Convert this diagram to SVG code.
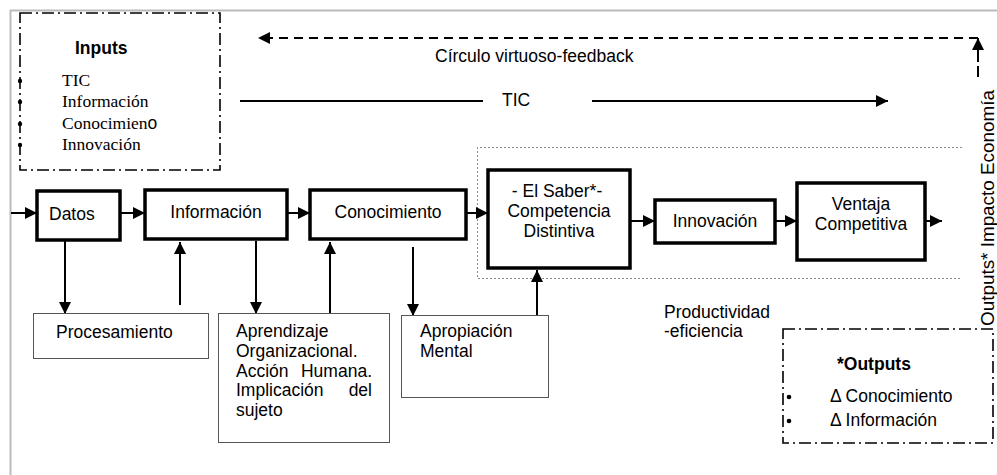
<svg xmlns="http://www.w3.org/2000/svg" width="997" height="475" viewBox="0 0 997 475">
<style>
.t{font-family:"Liberation Sans",Arial,sans-serif;font-size:17.5px;fill:#000}
.s{font-family:"Liberation Serif","Times New Roman",serif;font-size:17.5px;fill:#000}
.b{font-weight:bold}
.box{fill:#fff;stroke:#000;stroke-width:3.5}
.thin{fill:#fff;stroke:#555;stroke-width:1}
.dd{fill:none;stroke:#000;stroke-width:1.6;stroke-dasharray:12 4 2 4}
.c{stroke:#000;stroke-width:2;fill:none}
</style>
<defs>
<marker id="ah" viewBox="0 0 12 12" refX="12" refY="6" markerWidth="12" markerHeight="12" orient="auto" markerUnits="userSpaceOnUse"><path d="M0,0 L12,6 L0,12 z" fill="#000"/></marker>
</defs>
<rect width="997" height="475" fill="#fff"/>
<path d="M10.5,475 V10.5 H997" fill="none" stroke="#bbb" stroke-width="2"/>

<g id="inputs">
<rect class="dd" x="20" y="13" width="200" height="157"/>
<text class="t b" x="75" y="54">Inputs</text>
<circle cx="20" cy="81" r="2.2"/><circle cx="20" cy="102" r="2.2"/><circle cx="20" cy="124" r="2.2"/><circle cx="20" cy="145" r="2.2"/>
<text class="s" x="62" y="86">TIC</text>
<text class="s" x="62" y="107">Información</text>
<text class="s" x="62" y="129">Conocimien<tspan class="t">o</tspan></text>
<text class="s" x="62" y="150">Innovación</text>
</g>

<g id="zone">
<path d="M962,147.5 H477.5 V278.5 H962" fill="none" stroke="#888" stroke-width="1" stroke-dasharray="2 2"/>
</g>

<g id="connectors">
<path d="M978,77 V66 M978,62 V52" class="c" stroke-width="2.5"/>
<line x1="978" y1="52" x2="978" y2="38" class="c" stroke-width="2.5" marker-end="url(#ah)"/>
<line x1="978" y1="38" x2="258" y2="38" class="c" stroke-width="2.5" stroke-dasharray="9 6" marker-end="url(#ah)"/>
<line x1="240" y1="101" x2="483" y2="101" class="c"/>
<line x1="592" y1="101" x2="888" y2="101" class="c" marker-end="url(#ah)"/>
<line x1="11" y1="213" x2="37" y2="213" class="c" stroke-width="4" marker-end="url(#ah)"/>
<line x1="120" y1="213" x2="145" y2="213" class="c" marker-end="url(#ah)"/>
<line x1="287" y1="213" x2="310" y2="213" class="c" marker-end="url(#ah)"/>
<line x1="466" y1="213" x2="488" y2="213" class="c" marker-end="url(#ah)"/>
<line x1="630" y1="221" x2="655" y2="221" class="c" marker-end="url(#ah)"/>
<line x1="775" y1="221" x2="797" y2="221" class="c" marker-end="url(#ah)"/>
<line x1="925" y1="221" x2="942" y2="221" class="c" stroke-width="4" marker-end="url(#ah)"/>
<line x1="65" y1="241" x2="65" y2="314" class="c" marker-end="url(#ah)"/>
<line x1="180" y1="305" x2="180" y2="242" class="c" marker-end="url(#ah)"/>
<line x1="256" y1="241" x2="256" y2="314" class="c" marker-end="url(#ah)"/>
<line x1="330" y1="313" x2="330" y2="242" class="c" marker-end="url(#ah)"/>
<line x1="413" y1="247" x2="413" y2="316" class="c" marker-end="url(#ah)"/>
<line x1="537" y1="340" x2="537" y2="270" class="c" marker-end="url(#ah)"/>
<text class="t" x="435" y="62">Círculo virtuoso-feedback</text>
<text class="t" x="502" y="106">TIC</text>
</g>

<g id="datos">
<rect class="box" x="37" y="191" width="83" height="49"/>
<text class="t" x="49" y="220">Datos</text>
</g>
<g id="informacion">
<rect class="box" x="145" y="190" width="142" height="49"/>
<text class="t" x="216" y="218" text-anchor="middle">Información</text>
</g>
<g id="conocimiento">
<rect class="box" x="310" y="190" width="156" height="49"/>
<text class="t" x="388" y="218" text-anchor="middle">Conocimiento</text>
</g>
<g id="saber">
<rect class="box" x="488" y="170" width="142" height="98"/>
<text class="t" x="557" y="197" text-anchor="middle">- El Saber*-</text>
<text class="t" x="559" y="217" text-anchor="middle">Competencia</text>
<text class="t" x="559" y="237" text-anchor="middle">Distintiva</text>
</g>
<g id="innovacion">
<rect class="box" x="655" y="200" width="120" height="43"/>
<text class="t" x="715" y="227" text-anchor="middle">Innovación</text>
</g>
<g id="ventaja">
<rect class="box" x="797" y="183" width="128" height="77"/>
<text class="t" x="861" y="210" text-anchor="middle">Ventaja</text>
<text class="t" x="861" y="230" text-anchor="middle">Competitiva</text>
</g>

<g id="procesamiento">
<rect class="thin" x="33.5" y="313.5" width="175" height="45"/>
<text class="t" x="56" y="338">Procesamiento</text>
</g>
<g id="aprendizaje">
<rect class="thin" x="218.5" y="313.5" width="171" height="129"/>
<text class="t" x="236" y="337">Aprendizaje</text>
<text class="t" x="236" y="357">Organizacional.</text>
<text class="t" x="236" y="377">Acción</text>
<text class="t" x="372" y="377" text-anchor="end">Humana.</text>
<text class="t" x="236" y="396">Implicación</text>
<text class="t" x="372" y="396" text-anchor="end">del</text>
<text class="t" x="236" y="416">sujeto</text>
</g>
<g id="apropiacion">
<rect class="thin" x="401.5" y="315.5" width="147" height="82"/>
<text class="t" x="420" y="337">Apropiación</text>
<text class="t" x="420" y="357">Mental</text>
</g>

<g id="productividad">
<text class="t" x="664" y="318">Productividad</text>
<text class="t" x="664" y="337">-eficiencia</text>
</g>

<g id="outputs">
<rect class="dd" x="783" y="329" width="210" height="114"/>
<text class="t b" x="837" y="370">*Outputs</text>
<circle cx="789" cy="397" r="2.3"/><circle cx="789" cy="421" r="2.3"/>
<text class="t" x="830" y="402" font-size="16">Δ Conocimiento</text>
<text class="t" x="830" y="426" font-size="16">Δ Información</text>
</g>

<g id="impacto">
<text class="t" transform="translate(994,326) rotate(-90)" font-size="15.5" textLength="236" lengthAdjust="spacingAndGlyphs">Outputs* Impacto Economía</text>
</g>
</svg>
